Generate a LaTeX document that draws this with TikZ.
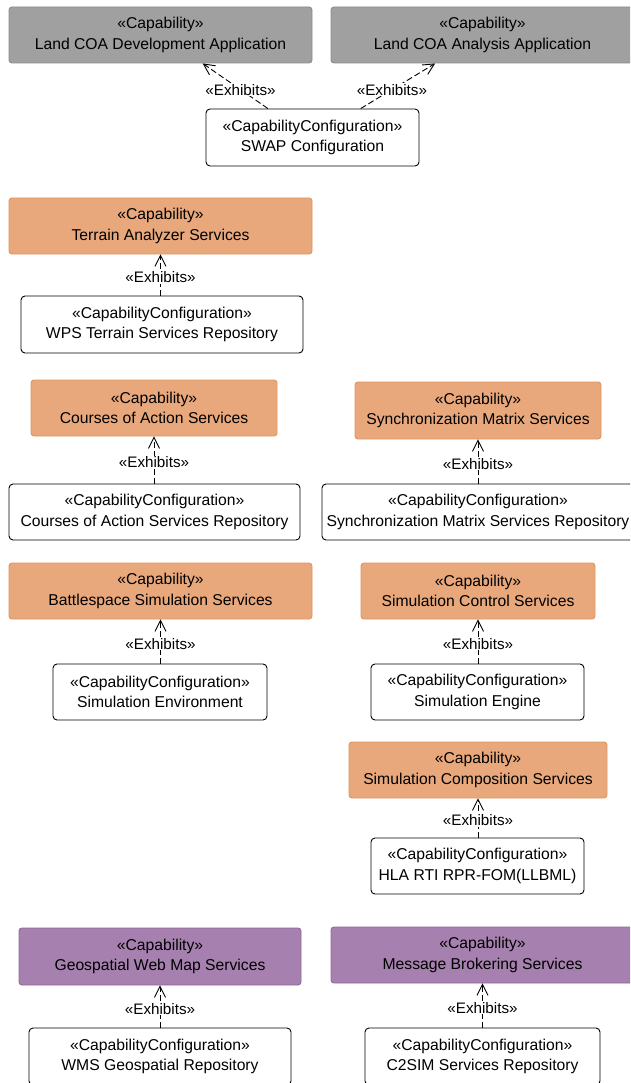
\documentclass[tikz,border=0pt]{standalone}
\usepackage{fontspec}
\setmainfont{Liberation Sans}
\usetikzlibrary{arrows.meta}

\definecolor{capgray}{HTML}{A0A0A0}
\definecolor{capgrayline}{HTML}{8C8C8C}
\definecolor{caporange}{HTML}{E8A87C}
\definecolor{caporangeline}{HTML}{DE955F}
\definecolor{cappurple}{HTML}{A680AE}
\definecolor{cappurpleline}{HTML}{93699C}

\tikzset{
  every node/.style={font=\fontsize{15.7}{20.5}\selectfont, align=center, inner sep=0pt},
  box/.style={rectangle, rounded corners=3pt, line width=0.9pt},
  grayCap/.style={box, fill=capgray, draw=capgrayline},
  orangeCap/.style={box, fill=caporange, draw=caporangeline},
  purpleCap/.style={box, fill=cappurple, draw=cappurpleline},
  cfgbox/.style={box, fill=white, draw=black, rounded corners=4pt},
  exhibits/.style={draw=black, line width=0.9pt, dash pattern=on 6pt off 3pt,
    -{Straight Barb[length=11pt,width=11pt,line width=0.9pt]}},
  exlabel/.style={fill=white, inner sep=1pt, font=\fontsize{15.2}{18}\selectfont},
}

% Nodes placed by centre, width and height (pt, y grows downward)
\newcommand{\cbox}[6]{%
  \node[#1, minimum width=#4, minimum height=#5] (#2) at #3 {#6};}

\begin{document}
\begin{tikzpicture}[x=1pt, y=-1pt]
\useasboundingbox (0,0) rectangle (630,1083);
\clip (0,0) rectangle (630,1083);

% Land COA applications
\cbox{grayCap}{dev}{(160.5,35)}{303pt}{56pt}{«Capability»\\Land COA Development Application}
\cbox{grayCap}{ana}{(482.5,35)}{303pt}{56pt}{«Capability»\\Land COA Analysis Application}
\cbox{cfgbox}{swap}{(312.5,137.5)}{213pt}{57pt}{«CapabilityConfiguration»\\SWAP Configuration}

% Terrain
\cbox{orangeCap}{ter}{(160.5,226)}{303pt}{56pt}{«Capability»\\Terrain Analyzer Services}
\cbox{cfgbox}{wps}{(162,324.5)}{282pt}{57pt}{«CapabilityConfiguration»\\WPS Terrain Services Repository}

% Courses of action
\cbox{orangeCap}{coa}{(154,408)}{246pt}{56pt}{«Capability»\\Courses of Action Services}
\cbox{cfgbox}{coar}{(154.5,512)}{291pt}{56pt}{«CapabilityConfiguration»\\Courses of Action Services Repository}

% Synchronization matrix
\cbox{orangeCap}{sync}{(478,410.5)}{246pt}{57pt}{«Capability»\\Synchronization Matrix Services}
\cbox{cfgbox}{syncr}{(478,512)}{312pt}{56pt}{«CapabilityConfiguration»\\Synchronization Matrix Services Repository}

% Simulation
\cbox{orangeCap}{bat}{(160.5,591)}{303pt}{56pt}{«Capability»\\Battlespace Simulation Services}
\cbox{cfgbox}{senv}{(160,692)}{214pt}{56pt}{«CapabilityConfiguration»\\Simulation Environment}
\cbox{orangeCap}{sctl}{(478,591)}{234pt}{56pt}{«Capability»\\Simulation Control Services}
\cbox{cfgbox}{seng}{(477.5,692)}{213pt}{56pt}{«CapabilityConfiguration»\\Simulation Engine}
\cbox{orangeCap}{scomp}{(478,770)}{258pt}{56pt}{«Capability»\\Simulation Composition Services}
\cbox{cfgbox}{hla}{(477.5,866)}{213pt}{56pt}{«CapabilityConfiguration»\\HLA RTI RPR-FOM(LLBML)}

% Geospatial and messaging
\cbox{purpleCap}{geo}{(160,956.5)}{282pt}{57pt}{«Capability»\\Geospatial Web Map Services}
\cbox{cfgbox}{wms}{(160,1056.5)}{262pt}{57pt}{«CapabilityConfiguration»\\WMS Geospatial Repository}
\cbox{purpleCap}{msg}{(482.5,955)}{303pt}{56pt}{«Capability»\\Message Brokering Services}
\cbox{cfgbox}{c2}{(482.5,1056.5)}{235pt}{57pt}{«CapabilityConfiguration»\\C2SIM Services Repository}

% Exhibits dependencies
\draw[exhibits] (swap.147) -- node[exlabel, pos=0.42] {«Exhibits»} (dev.326);
\draw[exhibits] (swap.31) -- node[exlabel, pos=0.42] {«Exhibits»} (ana.211);
\foreach \cfg/\cap in {wps/ter, coar/coa, syncr/sync, senv/bat, seng/sctl, hla/scomp, wms/geo, c2/msg}
  \draw[exhibits] (\cfg.north -| \cap.south) -- node[exlabel, pos=0.45] {«Exhibits»} (\cap.south);
\end{tikzpicture}
\end{document}
